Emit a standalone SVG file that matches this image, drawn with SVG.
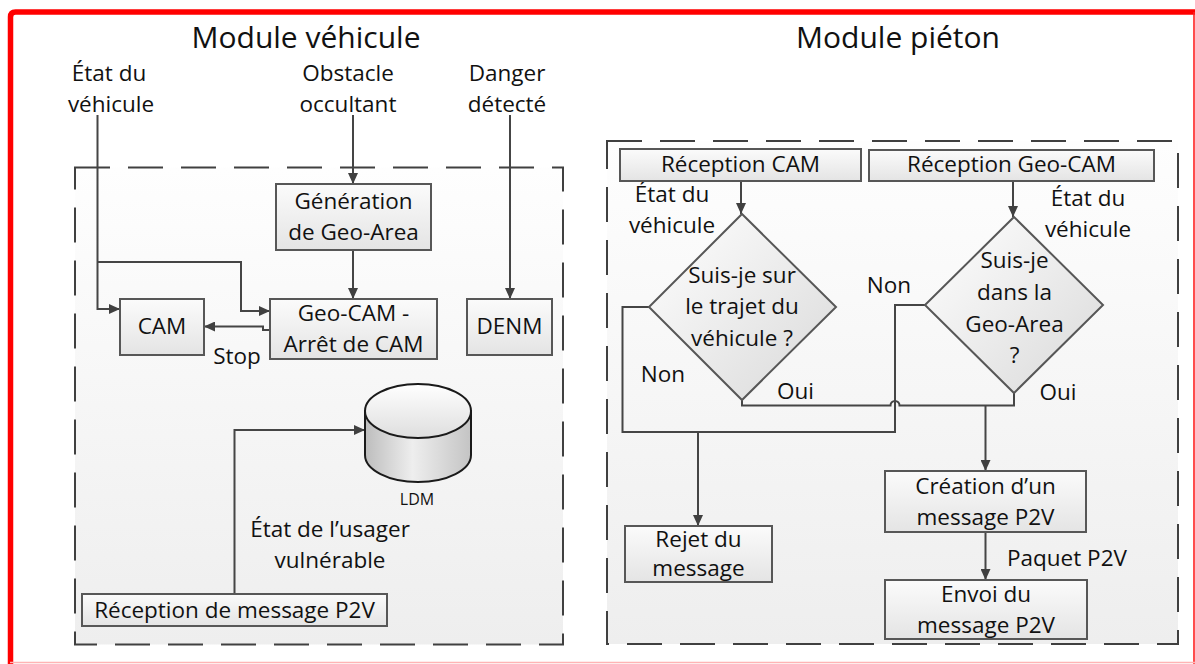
<svg xmlns="http://www.w3.org/2000/svg" width="1195" height="664" viewBox="0 0 1195 664">
<defs>
<linearGradient id="gBox" x1="0" y1="0" x2="0" y2="1"><stop offset="0" stop-color="#fbfbfb"/><stop offset="1" stop-color="#e4e4e4"/></linearGradient>
<linearGradient id="gPanel" x1="0" y1="0" x2="0" y2="1"><stop offset="0" stop-color="#fefefe"/><stop offset="1" stop-color="#eeeeee"/></linearGradient>
<linearGradient id="gDia" x1="0" y1="0" x2="1" y2="1"><stop offset="0" stop-color="#ffffff"/><stop offset="1" stop-color="#d9d9d9"/></linearGradient>
<linearGradient id="gCyl" x1="0" y1="0" x2="1" y2="0"><stop offset="0" stop-color="#bdbdbd"/><stop offset="0.45" stop-color="#eeeeee"/><stop offset="1" stop-color="#c4c4c4"/></linearGradient>
<linearGradient id="gCylTop" x1="0" y1="0" x2="0" y2="1"><stop offset="0" stop-color="#ffffff"/><stop offset="1" stop-color="#dedede"/></linearGradient>
<marker id="arr" markerUnits="userSpaceOnUse" markerWidth="12" markerHeight="10" refX="11" refY="5" orient="auto"><path d="M0,0 L11,5 L0,10 z" fill="#404040"/></marker>
<style>
.t{font-family:"Open Sans","Liberation Sans",sans-serif;font-size:22.5px;fill:#111;text-anchor:middle}
.title{font-size:30px}
.small{font-size:16px}
.box{fill:url(#gBox);stroke:#575757;stroke-width:2}
.dia{fill:url(#gDia);stroke:#575757;stroke-width:2}
.panel{fill:url(#gPanel);stroke:#404040;stroke-width:2;stroke-dasharray:35 18}
.c{fill:none;stroke:#454545;stroke-width:2}
.a{marker-end:url(#arr)}
</style>
</defs>
<rect x="0" y="0" width="1195" height="664" fill="#ffffff"/>
<g id="border">
<path d="M10.5,664 L10.5,17 Q10.5,12 15.5,12 L1195,12" fill="none" stroke="#ff0000" stroke-width="5.5"/>
<line x1="1194" y1="12" x2="1194" y2="664" stroke="#ff2020" stroke-width="1.6"/>
<line x1="10" y1="662.5" x2="1195" y2="662.5" stroke="#ffb4b4" stroke-width="1.5"/>
</g>
<g id="module-vehicule">
<rect class="panel" x="75" y="167.5" width="488" height="477"/>
<text class="t title" x="306" y="48">Module véhicule</text>
</g>
<g id="module-pieton">
<rect class="panel" x="607" y="141" width="571" height="503"/>
<text class="t title" x="898" y="48">Module piéton</text>
</g>
<g id="labels-inputs">
<text class="t" x="109" y="81">État du</text>
<text class="t" x="111" y="112">véhicule</text>
<text class="t" x="348" y="81">Obstacle</text>
<text class="t" x="348" y="112">occultant</text>
<text class="t" x="507" y="81">Danger</text>
<text class="t" x="507" y="112">détecté</text>
</g>
<g id="connectors">
<path class="c a" d="M353,115 L353,184"/>
<path class="c a" d="M510,115 L510,299"/>
<path class="c a" d="M97.5,115 L97.5,309 L120,309"/>
<path class="c a" d="M97.5,262 L241,262 L241,311 L270,311"/>
<path class="c a" d="M353,250 L353,299"/>
<path class="c a" d="M270,330 L263,330 L263,326.5 L204,326.5"/>
<path class="c a" d="M234.5,594 L234.5,430 L365,430"/>
<path class="c a" d="M741,181 L741,214"/>
<path class="c a" d="M1013,181 L1013,217"/>
<path class="c" d="M649,307 L622.5,307 L622.5,432 L895,432 L895,305 L925,305"/>
<path class="c" d="M742,400 L742,405.5 L890.5,405.5 A4.5,4.5 0 0 1 899.5,405.5 L1014,405.5 L1014,393"/>
<path class="c a" d="M985.5,405.5 L985.5,471"/>
<path class="c a" d="M698,432 L698,526"/>
<path class="c a" d="M985.5,532 L985.5,580"/>
</g>
<g id="connector-labels">
<text class="t" x="237" y="364">Stop</text>
<text class="t" x="330" y="537">État de l’usager</text>
<text class="t" x="330" y="568">vulnérable</text>
<text class="t" x="672" y="202">État du</text>
<text class="t" x="672" y="233">véhicule</text>
<text class="t" x="1088" y="206">État du</text>
<text class="t" x="1088" y="237">véhicule</text>
<text class="t" x="663" y="382">Non</text>
<text class="t" x="795.5" y="399">Oui</text>
<text class="t" x="889" y="293">Non</text>
<text class="t" x="1058" y="400">Oui</text>
<text class="t" x="1007" y="566" style="text-anchor:start">Paquet P2V</text>
</g>
<g id="node-generation">
<rect class="box" x="276" y="184" width="155" height="66"/>
<text class="t" x="353.5" y="209">Génération</text>
<text class="t" x="353.5" y="240">de Geo-Area</text>
</g>
<g id="node-cam">
<rect class="box" x="120" y="299" width="84" height="56"/>
<text class="t" x="162" y="334">CAM</text>
</g>
<g id="node-geocam">
<rect class="box" x="270" y="299" width="167" height="60"/>
<text class="t" x="353.5" y="321">Geo-CAM -</text>
<text class="t" x="353.5" y="352">Arrêt de CAM</text>
</g>
<g id="node-denm">
<rect class="box" x="467" y="299" width="85" height="56"/>
<text class="t" x="509.5" y="334">DENM</text>
</g>
<g id="node-ldm">
<path d="M365,411 L365,455 A53,27 0 0 0 471,455 L471,411 Z" fill="url(#gCyl)" stroke="#1a1a1a" stroke-width="2"/>
<ellipse cx="418" cy="411" rx="53" ry="27" fill="url(#gCylTop)" stroke="#1a1a1a" stroke-width="2"/>
<text class="t small" x="417" y="505">LDM</text>
</g>
<g id="node-reception-p2v">
<rect class="box" x="82" y="594" width="305" height="32"/>
<text class="t" x="234.5" y="618">Réception de message P2V</text>
</g>
<g id="node-reception-cam">
<rect class="box" x="620" y="149" width="241" height="32"/>
<text class="t" x="740.5" y="172">Réception CAM</text>
</g>
<g id="node-reception-geocam">
<rect class="box" x="869" y="150" width="285" height="31"/>
<text class="t" x="1011.5" y="172">Réception Geo-CAM</text>
</g>
<g id="node-decision-trajet">
<polygon class="dia" points="742,214 836,307 742,400 649,307"/>
<text class="t" x="742" y="283">Suis-je sur</text>
<text class="t" x="742" y="314">le trajet du</text>
<text class="t" x="742" y="346">véhicule ?</text>
</g>
<g id="node-decision-geoarea">
<polygon class="dia" points="1014,217 1103,305 1014,393 925,305"/>
<text class="t" x="1014.5" y="268">Suis-je</text>
<text class="t" x="1014.5" y="300">dans la</text>
<text class="t" x="1014.5" y="332">Geo-Area</text>
<text class="t" x="1014.5" y="363">?</text>
</g>
<g id="node-rejet">
<rect class="box" x="625" y="526" width="147" height="56"/>
<text class="t" x="698.5" y="547">Rejet du</text>
<text class="t" x="698.5" y="576">message</text>
</g>
<g id="node-creation">
<rect class="box" x="885" y="471" width="201" height="61"/>
<text class="t" x="985.5" y="494">Création d’un</text>
<text class="t" x="985.5" y="525">message P2V</text>
</g>
<g id="node-envoi">
<rect class="box" x="885" y="580" width="202" height="59"/>
<text class="t" x="986" y="602">Envoi du</text>
<text class="t" x="986" y="633">message P2V</text>
</g>
</svg>
